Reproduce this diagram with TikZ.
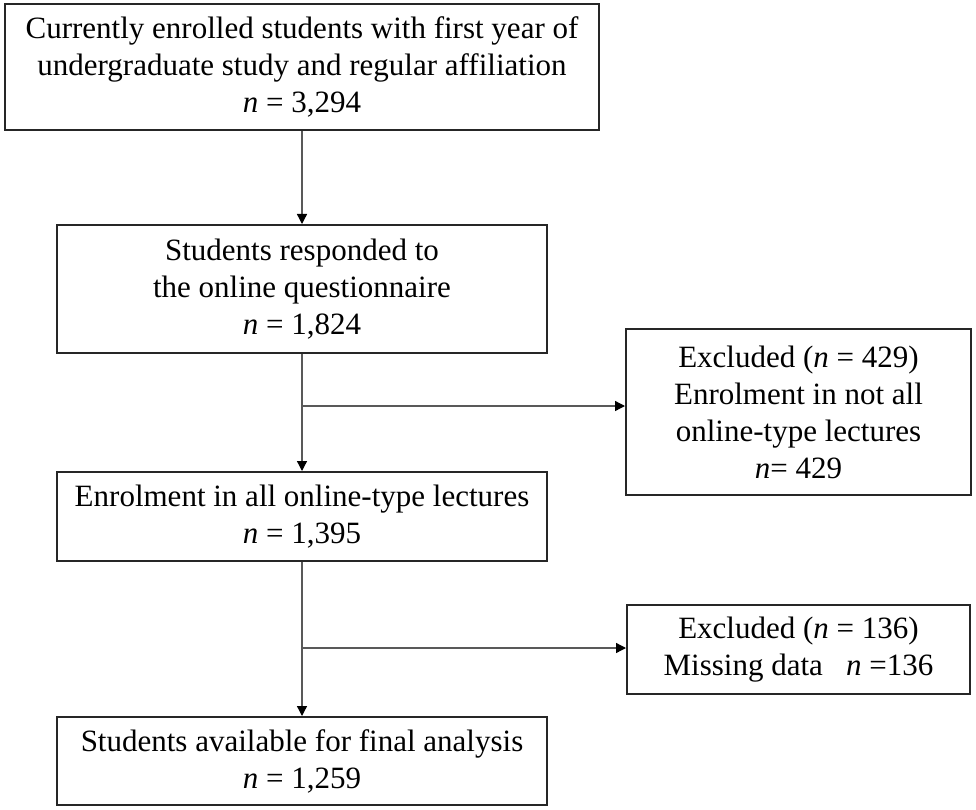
\documentclass[tikz,border=0pt]{standalone}
\usepackage{fontspec}
\setmainfont{Liberation Serif}
\usetikzlibrary{arrows.meta}
\begin{document}
\begin{tikzpicture}[x=1pt,y=-1pt,
  box/.style={draw=black!85,line width=2pt,align=center,inner sep=0pt,
    font=\fontsize{31}{37}\selectfont},
  conn/.style={draw=black!65,line width=1.3pt},
  arr/.style={conn,-{Triangle[length=10pt,width=10pt,color=black]}}]
\useasboundingbox (0,0) rectangle (976,810);
\node[box,minimum width=594pt,minimum height=126pt] (b1) at (302,67)
  {Currently enrolled students with first year of\\undergraduate study and regular affiliation\\\textit{n} = 3,294};
\node[box,minimum width=490pt,minimum height=128pt] (b2) at (302,289)
  {Students responded to\\the online questionnaire\\\textit{n} = 1,824};
\node[box,minimum width=345pt,minimum height=166pt] (e1) at (798.5,412)
  {Excluded (\textit{n} = 429)\\Enrolment in not all\\online-type lectures\\\textit{n}= 429};
\node[box,minimum width=490pt,minimum height=89pt] (b3) at (302,516.5)
  {Enrolment in all online-type lectures\\\textit{n} = 1,395};
\node[box,minimum width=343pt,minimum height=89pt] (e2) at (798.5,649.5)
  {Excluded (\textit{n} = 136)\\Missing data~~ \textit{n} =136};
\node[box,minimum width=490pt,minimum height=88pt] (b4) at (302,761)
  {Students available for final analysis\\\textit{n} = 1,259};
\coordinate (j1) at (302,406);
\coordinate (j2) at (302,648);
\draw[arr] (b1.south) -- (b2.north);
\draw[arr] (b2.south) -- (b3.north);
\draw[arr] (j1) -- (j1 -| e1.west);
\draw[arr] (b3.south) -- (b4.north);
\draw[arr] (j2) -- (j2 -| e2.west);
\end{tikzpicture}
\end{document}
